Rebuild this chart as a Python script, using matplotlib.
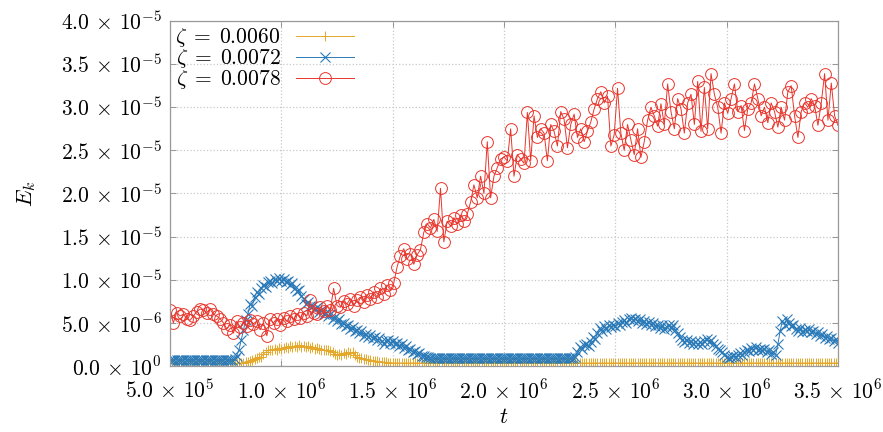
import numpy as np
import matplotlib
matplotlib.use('Agg')
import matplotlib.pyplot as plt

plt.rcParams['mathtext.fontset'] = 'cm'
plt.rcParams['font.family'] = ['DejaVu Serif']

# ---- data (values in units of 1e-6) ----
t_start, t_end = 5.0e5, 3.5e6

E_0060 = [
    0.3, 0.3, 0.3, 0.3, 0.3, 0.3, 0.3, 0.3, 0.3, 0.3, 0.3, 0.3, 0.3, 0.3, 0.3, 0.3,
    0.3, 0.3, 0.3, 0.3, 0.3, 0.3, 0.3, 0.3, 0.3, 0.3, 0.3, 0.3, 0.3, 0.3, 0.3, 0.3,
    0.35, 0.4, 0.5, 0.5, 0.6, 0.7, 0.8, 0.9, 1.0, 1.1, 1.4, 1.6, 1.8, 1.9, 1.8, 2.0, 1.9, 2.1,
    2.0, 2.1, 2.2, 2.1, 2.3, 2.2, 2.3, 2.2, 2.4, 2.2, 2.3, 2.2, 2.3, 2.1, 2.2, 2.0, 2.1, 2.0, 1.9, 1.9,
    1.8, 1.9, 1.7, 1.6, 1.4, 1.3, 1.4, 1.3, 1.5, 1.4, 1.6, 1.5, 1.6, 1.3, 1.1, 0.9, 0.9, 0.8, 0.8, 0.7,
    0.7, 0.6, 0.6, 0.55, 0.5, 0.5, 0.45, 0.45, 0.4, 0.4,
    0.35, 0.35, 0.35, 0.35, 0.35, 0.35, 0.35, 0.35, 0.35, 0.35, 0.35, 0.35, 0.35, 0.35, 0.35, 0.35,
    0.35, 0.35, 0.35, 0.35, 0.35, 0.35, 0.35, 0.35, 0.35, 0.35, 0.35, 0.35, 0.35, 0.35, 0.35, 0.35,
    0.35, 0.35, 0.35, 0.35, 0.35, 0.35, 0.35, 0.35, 0.35, 0.35, 0.35, 0.35, 0.35, 0.35, 0.35, 0.35,
    0.35, 0.35, 0.35, 0.35, 0.35, 0.35, 0.35, 0.35, 0.35, 0.35, 0.35, 0.35, 0.35, 0.35, 0.35, 0.35,
    0.35, 0.35, 0.35, 0.35, 0.35, 0.35, 0.35, 0.35, 0.35, 0.35, 0.35, 0.35, 0.35, 0.35, 0.35, 0.35,
    0.35, 0.35, 0.35, 0.35, 0.35, 0.35, 0.35, 0.35, 0.35, 0.35, 0.35, 0.35, 0.35, 0.35, 0.35, 0.35,
    0.35, 0.35, 0.35, 0.35, 0.35, 0.35, 0.35, 0.35, 0.35, 0.35, 0.35, 0.35, 0.35, 0.35, 0.35, 0.35,
    0.35, 0.35, 0.35, 0.35, 0.35, 0.35, 0.35, 0.35, 0.35, 0.35, 0.35, 0.35, 0.35, 0.35, 0.35, 0.35,
    0.35, 0.35, 0.35, 0.35, 0.35, 0.35, 0.35, 0.35, 0.35, 0.35, 0.35, 0.35, 0.35, 0.35, 0.35, 0.35,
    0.35, 0.35, 0.35, 0.35, 0.35, 0.35, 0.35, 0.35, 0.35, 0.35, 0.35, 0.35, 0.35, 0.35, 0.35, 0.35,
    0.35, 0.35, 0.35, 0.35, 0.35, 0.35, 0.35, 0.35, 0.35, 0.35, 0.35, 0.35, 0.35, 0.35, 0.35, 0.35,
    0.35, 0.35, 0.35, 0.35, 0.35, 0.35, 0.35, 0.35, 0.35, 0.35, 0.35, 0.35, 0.35, 0.35, 0.35, 0.35,
    0.35, 0.35, 0.35, 0.35, 0.35, 0.35, 0.35, 0.35, 0.35,
]

E_0072 = [
    0.7, 0.7, 0.7, 0.7, 0.7, 0.7, 0.7, 0.7, 0.7, 0.7, 0.7, 0.7, 0.7, 0.7, 0.7, 0.7,
    0.7, 0.7, 0.7, 0.7, 0.7, 0.7, 0.7, 0.7, 0.7, 0.7, 0.7, 0.7, 0.7,
    0.8, 1.2, 1.9, 3.0, 4.2, 5.3, 6.0, 7.2, 7.0, 8.0, 8.6, 8.3, 9.0, 9.4, 9.2, 9.7, 9.9, 9.6, 10.1, 9.8, 10.2,
    9.9, 10.1, 9.7, 9.9, 9.4, 9.6, 9.0, 8.7, 8.8, 8.1, 7.8, 7.2, 7.4, 6.9, 7.0, 6.6, 6.8, 6.3, 6.5, 6.0,
    6.2, 5.8, 6.0, 5.5, 5.7, 5.2, 5.4, 4.9, 5.0, 4.6, 4.8, 4.3, 4.5, 4.0, 4.2, 3.8, 4.0, 3.5, 3.7, 3.4,
    3.6, 3.2, 3.4, 3.0, 3.2, 2.9, 2.6, 2.9, 3.0, 2.7, 2.9, 2.5, 2.7, 2.3, 2.5, 2.1, 2.3, 1.9, 2.0, 1.6,
    1.7, 1.4, 1.5, 1.2, 1.2, 1.0, 1.0, 0.95,
    0.9, 0.9, 0.9, 0.9, 0.9, 0.9, 0.9, 0.9, 0.9, 0.9, 0.9, 0.9, 0.9, 0.9, 0.9, 0.9,
    0.9, 0.9, 0.9, 0.9, 0.9, 0.9, 0.9, 0.9, 0.9, 0.9, 0.9, 0.9, 0.9, 0.9, 0.9, 0.9,
    0.9, 0.9, 0.9, 0.9, 0.9, 0.9, 0.9, 0.9, 0.9, 0.9, 0.9, 0.9, 0.9, 0.9, 0.9, 0.9,
    0.9, 0.9, 0.9, 0.9, 0.9, 0.9, 0.9, 0.9, 0.9, 0.9, 0.9, 0.9, 0.9, 0.9, 0.9, 0.9,
    1.0, 1.6, 2.2, 2.0, 2.4, 2.6, 2.3, 2.8, 3.4, 3.1, 3.8, 4.4, 4.0, 4.6, 4.3, 4.7, 4.5, 4.8, 4.6, 5.0,
    4.8, 5.1, 5.3, 5.0, 5.4, 5.6, 5.3, 5.5, 5.2, 5.4, 5.0, 5.2, 4.9, 5.1, 4.8, 5.0, 4.6, 4.8, 4.4, 4.7,
    4.3, 4.5, 4.8, 4.4, 4.7, 4.2,
    3.8, 3.4, 3.0, 2.8, 3.0, 2.7, 2.9, 2.6, 2.8, 2.5, 2.8, 2.6, 2.9, 3.1, 2.8, 3.0, 2.6, 2.3, 2.0, 1.8,
    1.6, 1.3, 1.1, 0.9, 1.0,
    1.2, 1.0, 1.3, 1.5, 1.3, 1.6, 1.9, 1.7, 2.1, 1.9, 2.2, 1.8, 2.0, 1.8, 2.0, 1.6, 1.8, 1.4, 1.6, 1.3,
    2.5, 4.0, 5.2, 4.8, 5.4, 5.0, 4.6, 4.8, 4.3, 4.0, 4.4, 3.9, 4.2, 4.0, 4.3, 3.9, 4.1, 3.7, 3.9, 3.5,
    3.7, 3.3, 3.5, 3.1, 3.3, 2.9, 3.1, 2.7,
]

E_0078 = [
    6.5, 5.0, 6.2, 5.8, 6.0, 5.5, 5.3, 5.8, 6.3, 6.6, 6.5, 6.2, 6.6, 6.0,
    5.8, 5.5, 5.0, 4.3, 4.8, 3.8, 5.2, 4.5, 5.0, 4.6, 5.3, 4.9, 5.2, 4.2, 5.0, 3.5, 5.4,
    5.0, 5.5, 4.8, 5.6, 5.2, 5.8, 5.4, 6.0, 5.6, 6.2, 5.8, 7.6, 6.2, 6.0, 6.8, 6.4, 6.9,
    6.5, 9.0, 7.0, 6.8, 7.5, 7.2, 7.8, 7.0, 7.6, 8.0, 7.4,
    8.2, 7.8, 8.6, 8.0, 9.0, 8.4, 9.4, 8.8, 9.6,
    11.5, 12.8, 13.6, 12.4, 13.0, 11.8, 12.9, 13.5,
    15.5, 16.5, 16.0, 17.0, 15.6,
    20.6, 14.4, 16.8, 16.2, 17.2,
    16.5, 17.5, 16.8, 17.6,
    19.0, 21.0, 19.5, 22.0, 20.0, 26.0, 19.5, 22.0, 23.0, 24.0,
    24.2, 23.8, 27.5, 22.0, 24.5, 24.0, 23.5,
    29.4, 23.8, 29.0, 26.5,
    27.5, 27.0, 23.8, 28.0, 27.2, 25.5,
    29.5, 28.6, 25.3, 28.0, 29.2,
    26.5, 27.5, 26.0, 27.2, 28.3, 29.8,
    31.0, 31.8, 30.5, 31.3,
    25.5, 26.8,
    32.2,
    27.0, 25.0, 28.0, 26.2, 24.5, 27.5, 24.2, 26.0, 28.5,
    30.0, 29.0, 27.8, 30.4,
    28.0, 32.7, 29.5, 27.5,
    31.0, 29.8, 27.0, 30.5, 31.5, 28.0,
    33.0, 27.2, 32.3, 27.5, 33.9,
    31.5, 30.0, 27.0, 30.5, 29.3,
    31.0, 32.7, 29.5, 30.2, 27.3,
    29.8, 30.5, 32.7,
    31.0, 29.0, 30.0, 28.2, 30.5, 29.5, 27.7, 30.0, 28.5,
    31.8, 32.5, 29.0,
    26.5,
    29.5, 30.5, 30.0, 31.0, 30.2, 27.9,
    30.5, 33.9, 28.5, 32.8, 29.0, 27.9,
]

labels = [r'$\zeta\;=\;0.0060$', r'$\zeta\;=\;0.0072$', r'$\zeta\;=\;0.0078$']
colors = ['#e5a82a', '#2a7ab8', '#e8352c']

x_ticks = [5.0e5, 1.0e6, 1.5e6, 2.0e6, 2.5e6, 3.0e6, 3.5e6]
x_ticklabels = [r'$5.0\,\times\,10^{5}$', r'$1.0\,\times\,10^{6}$', r'$1.5\,\times\,10^{6}$',
                r'$2.0\,\times\,10^{6}$', r'$2.5\,\times\,10^{6}$', r'$3.0\,\times\,10^{6}$',
                r'$3.5\,\times\,10^{6}$']
y_ticks = [0.0, 5.0e-6, 1.0e-5, 1.5e-5, 2.0e-5, 2.5e-5, 3.0e-5, 3.5e-5, 4.0e-5]
y_ticklabels = [r'$0.0\,\times\,10^{0}$', r'$5.0\,\times\,10^{-6}$', r'$1.0\,\times\,10^{-5}$',
                r'$1.5\,\times\,10^{-5}$', r'$2.0\,\times\,10^{-5}$', r'$2.5\,\times\,10^{-5}$',
                r'$3.0\,\times\,10^{-5}$', r'$3.5\,\times\,10^{-5}$', r'$4.0\,\times\,10^{-5}$']

# ---- figure ----
fig = plt.figure(figsize=(8.83, 4.32), dpi=100)
ax = fig.add_axes([0.1925, 0.1528, 0.7565, 0.7986])

series = [E_0060, E_0072, E_0078]
styles = [dict(marker='+', ms=6.5, mew=0.7),
          dict(marker='x', ms=7, mew=0.8),
          dict(marker='o', ms=8.5, mew=0.7, mfc='none')]
for vals, lab, col, st in zip(series, labels, colors, styles):
    v = np.array(vals) * 1e-6
    t = np.linspace(t_start, t_end, len(v))
    ax.plot(t, v, color=col, lw=0.7, label=lab, **st)

ax.set_xlim(t_start, t_end)
ax.set_ylim(0, 4.0e-5)
ax.set_xticks(x_ticks)
ax.set_xticklabels(x_ticklabels)
ax.set_yticks(y_ticks)
ax.set_yticklabels(y_ticklabels)
ax.tick_params(direction='in', length=4, width=0.6, color='#888888',
               top=True, right=True, labelsize=15.5)
ax.tick_params(axis='x', pad=10)
ax.tick_params(axis='y', pad=6)
for s in ax.spines.values():
    s.set_color('#999999')
    s.set_linewidth(0.9)
ax.grid(True, color='#c8c8c8', linestyle=':', linewidth=0.9)
ax.set_axisbelow(True)

ax.set_xlabel(r'$t$', fontsize=16, labelpad=2)
ax.set_ylabel(r'$E_k$', fontsize=16, labelpad=16)

leg = ax.legend(loc='upper left', markerfirst=False, frameon=False,
                fontsize=15.5, handlelength=2.7, labelspacing=-0.1,
                borderaxespad=0.05, handletextpad=0.7, borderpad=0.2)

fig.savefig('out.png', dpi=100)
